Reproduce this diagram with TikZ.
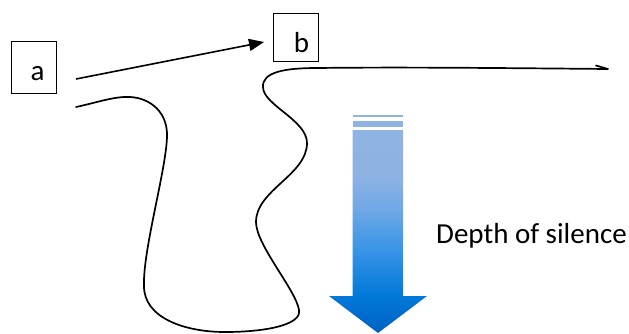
\documentclass[tikz,border=0pt]{standalone}
\usepackage{fontspec}
\setmainfont{Carlito}
\usetikzlibrary{arrows.meta}
\definecolor{dA}{HTML}{0062C4}
\definecolor{dB}{HTML}{0078D8}
\definecolor{dC}{HTML}{3894E6}
\definecolor{dD}{HTML}{6EA8E6}
\definecolor{dE}{HTML}{8EB3E3}
\definecolor{dF}{HTML}{8FB4E3}
\pgfdeclareverticalshading{depthshade}{100bp}{color(0bp)=(dA); color(25bp)=(dA); color(34bp)=(dB); color(45.4bp)=(dC); color(55.3bp)=(dD); color(63.9bp)=(dE); color(75bp)=(dF); color(100bp)=(dF)}
\tikzset{
  boxnode/.style={draw=black, line width=1pt, minimum width=45pt, minimum height=52pt, inner sep=0pt},
  lbl/.style={font=\fontsize{29}{34}\selectfont, inner sep=0pt, anchor=base},
  wave/.style={line width=1.7pt, line cap=round, line join=round},
  conn/.style={line width=1.6pt, -{Triangle[length=15pt,width=12pt]}}
}
\begin{document}
\begin{tikzpicture}[x=1pt,y=-1pt]
\useasboundingbox (0,0) rectangle (629,333);
% boxes
\node[boxnode] (a) at (33.5,67) {};
\node[boxnode, minimum height=48pt] (b) at (295.5,37) {};
\node[lbl] (la) at (37.5,80) {a};
\node[lbl] (lb) at (301.5,52) {b};
% connector a -> b
\coordinate (aout) at (76,79);
\coordinate (bin) at (264,42);
\draw[conn] (aout) -- (bin);
% wavy line
\coordinate (w0) at (76,107);
\coordinate (w1) at (608,69);
\coordinate (w2) at (596,65.5);
\draw[wave] (w0)
  .. controls (95,103) and (115,96) .. (130,97)
  .. controls (150,98) and (168,112) .. (167,137)
  .. controls (166,170) and (143,250) .. (144,285)
  .. controls (143,318) and (185,332) .. (225,332)
  .. controls (265,332) and (302,325) .. (299,310)
  .. controls (296,290) and (256,245) .. (256,222)
  .. controls (256,190) and (307,175) .. (307,143)
  .. controls (307,120) and (263,105) .. (263,87)
  .. controls (262,72) and (285,68) .. (317,68)
  .. controls (400,67) and (500,68) .. (w1) -- (w2);
% depth arrow
\fill[dF] (352.7,114.7) rectangle (403,117.3);
\fill[dF] (352.7,120.7) rectangle (403,126.7);
\path[shading=depthshade] (352.7,130) -- (403,130) -- (403,296) -- (427,296) -- (378,333) -- (329,296) -- (352.7,296) -- cycle;
\node[font=\fontsize{29}{34}\selectfont, inner sep=0pt, anchor=base west] (depth) at (436,243) {Depth of silence};
\end{tikzpicture}
\end{document}
